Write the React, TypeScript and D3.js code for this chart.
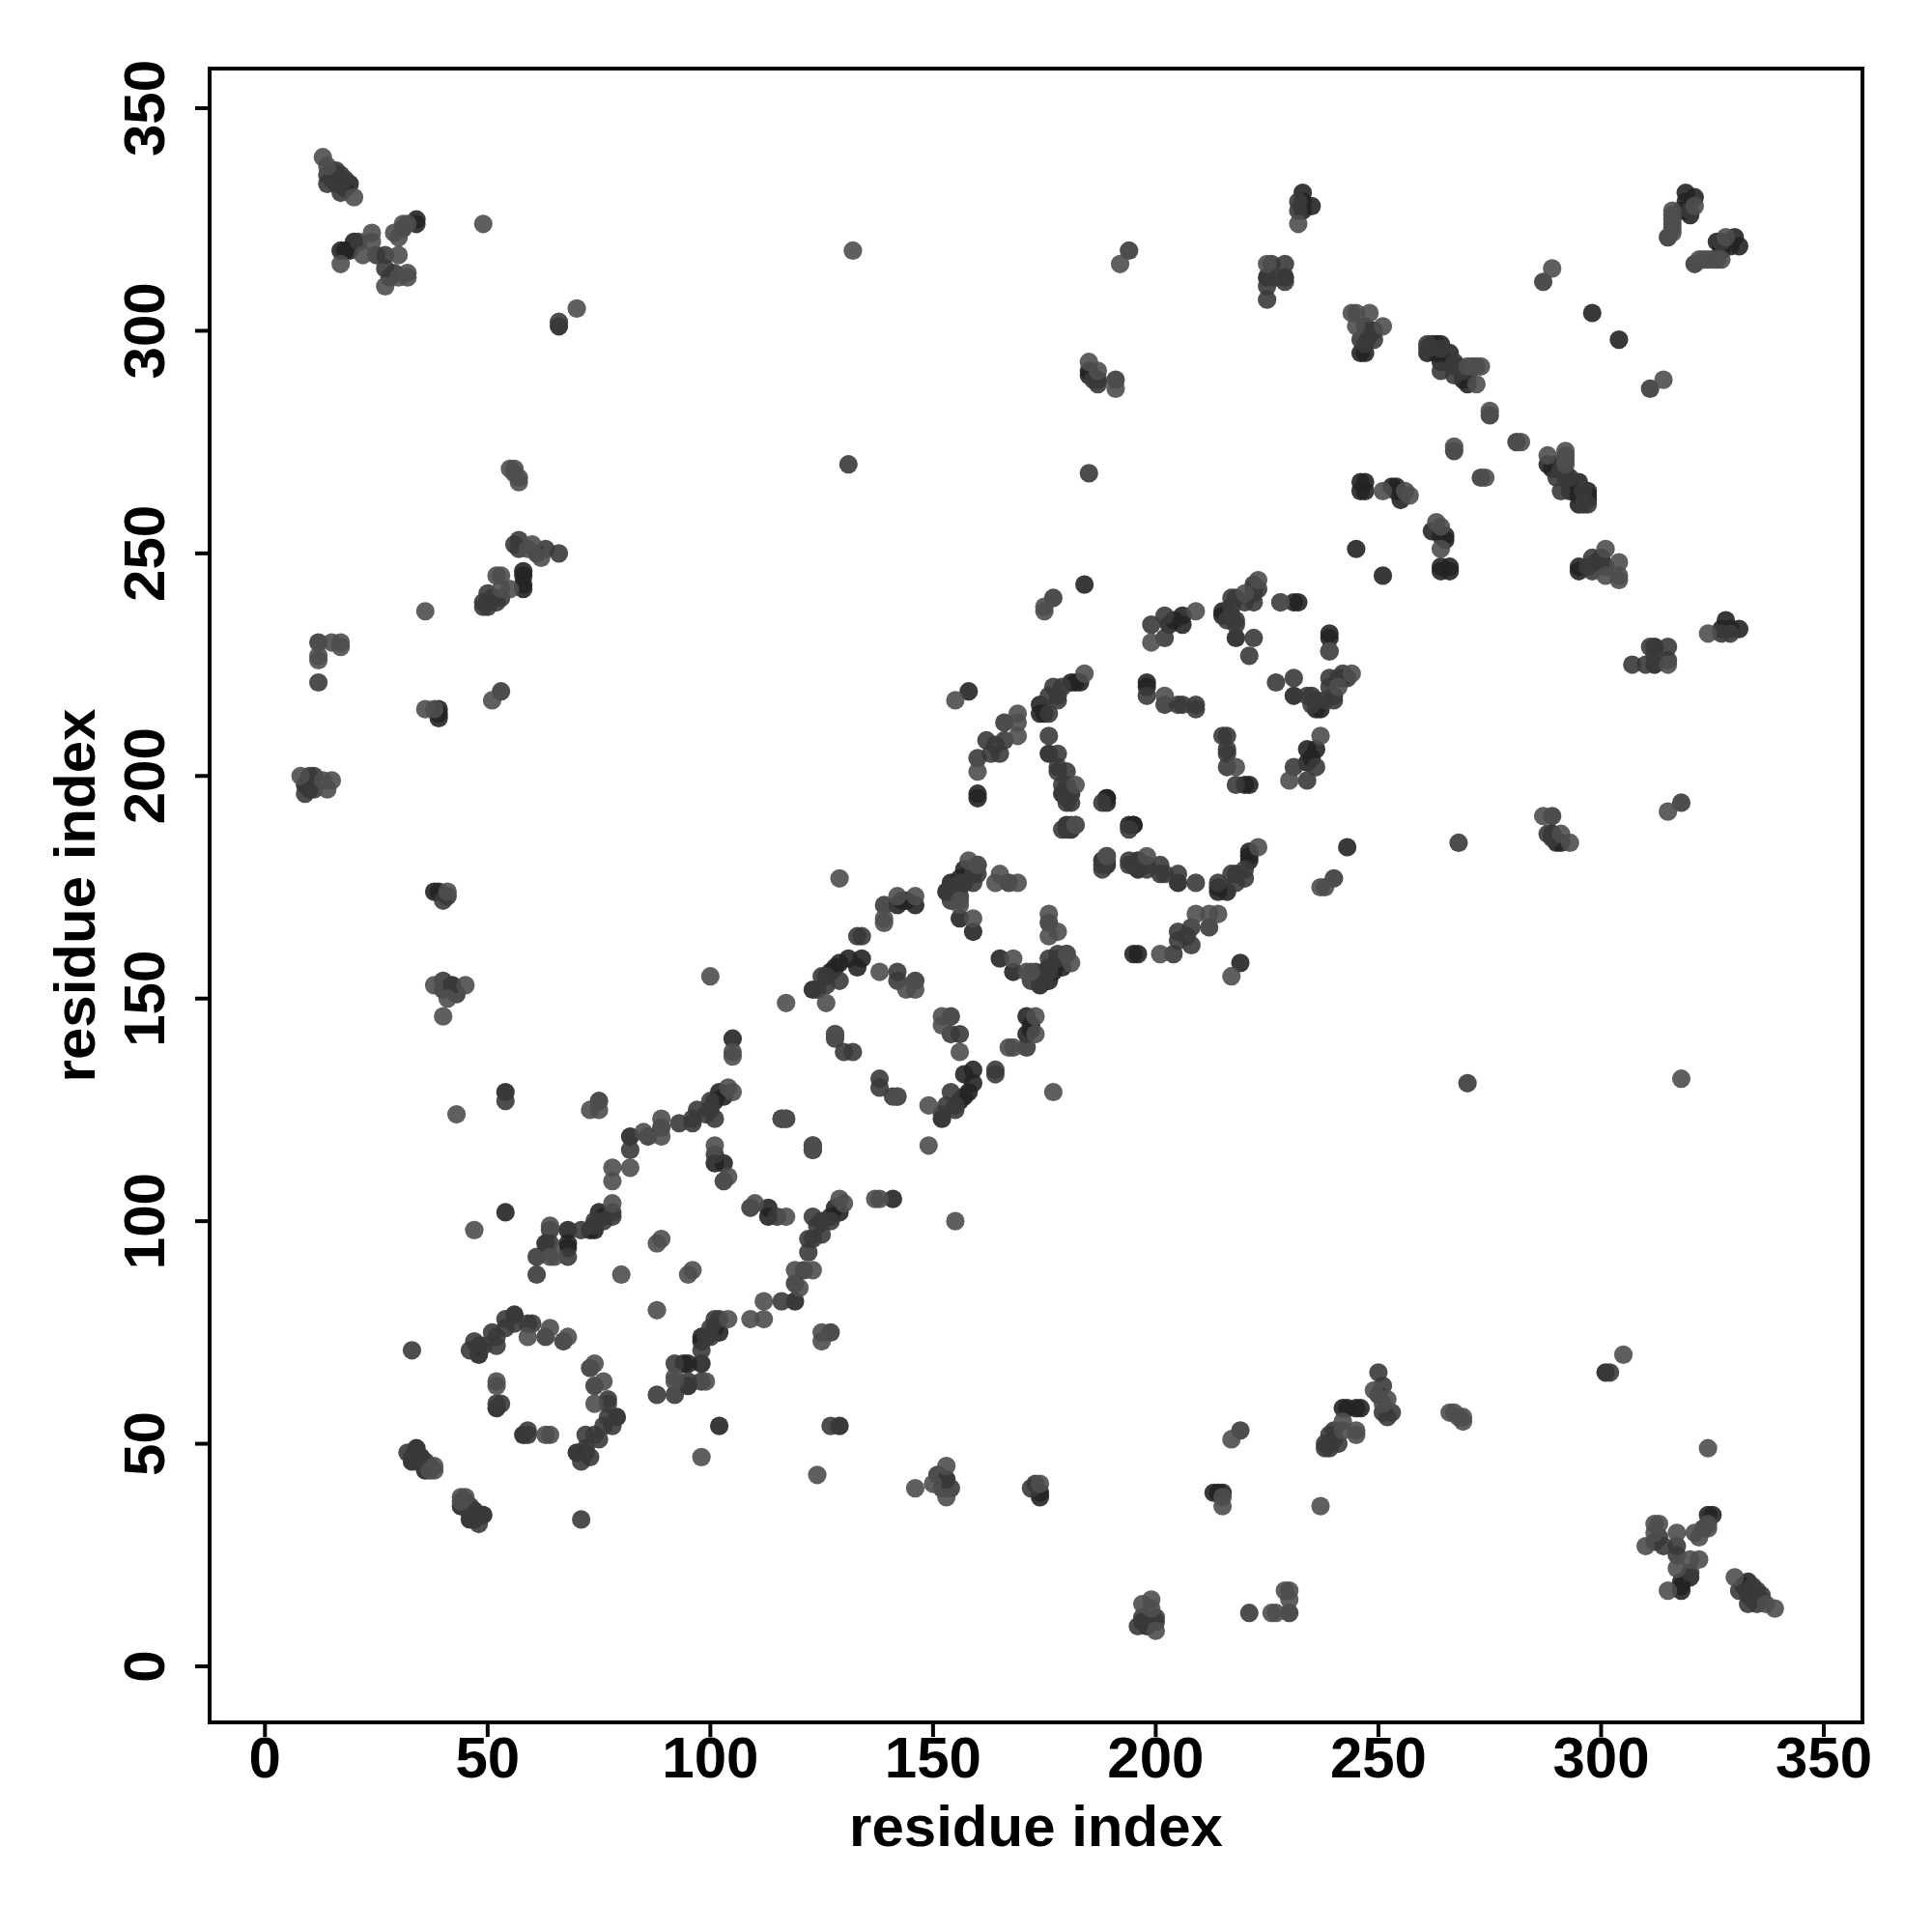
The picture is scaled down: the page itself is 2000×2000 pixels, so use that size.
import React from "react";
import * as d3 from "d3";

const tickValues = [0, 50, 100, 150, 200, 250, 300, 350];
const axisLabel = "residue index";

// contacts are symmetric: only i < j is listed, the mirror is drawn from it
const lightContacts = [
  [13,339],[14,337],[20,330],[17,315],[24,322],[24,320],[22,317],[30,317],[27,310],[32,313],[32,312],[30,312],[49,324],[70,305],[29,322],[30,321],[31,324],[32,324],
  [55,269],[56,269],[56,268],[57,267],[57,266],[60,252],[59,251],[62,249],[52,245],[53,245],[53,242],[55,242],[36,237],[15,230],[17,229],[12,227],[12,226],[17,230],[51,217],[36,215],[38,215],[8,200],[15,199],[14,197],[13,199],
  [38,153],[40,146],[45,153],[41,150],[43,124],[73,125],[75,125],[41,174],
  [85,120],[89,123],[89,119],[78,112],[78,109],[82,112],[104,130],[105,129],[105,138],[105,137],[117,149],[101,117],[104,110],[116,123],[117,123],
  [59,74],[64,76],[68,74],[52,64],[52,63],[38,44],[38,45],[37,44],
  [47,98],[64,99],[64,92],[65,92],[78,104],[88,95],[89,96],[80,88],[100,155],
  [129,177],[139,168],[139,167],[142,173],[146,173],[138,156],[146,152],[144,152],[126,149],[128,142],[142,128],
  [158,181],[160,180],[156,172],[156,171],[159,168],[165,178],[164,176],[169,176],[155,217],
  [184,223],[169,214],[169,212],[169,209],[160,201],[182,198],[182,189],[189,182],
  [209,237],[199,230],[220,241],[228,239],[223,244],[202,218],[239,228],
  [232,324],[225,315],[192,315],[132,318],[175,238],[175,237],[185,293],[187,291],[191,287],
  [244,304],[245,304],[248,304],[251,301],[245,301],[270,292],[271,292],[272,292],[272,288],[273,292],[275,282],[267,274],
  [251,264],[256,264],[257,263],[289,314],[321,328],[316,327],[316,325],[316,323],[316,322],[316,324],[316,326],
];

const midContacts = [
  [14,335],[15,336],[16,336],[15,334],[16,333],[17,335],[17,331],[14,333],[18,334],[21,320],[25,317],[27,317],[27,314],[29,313],[66,302],[28,312],[31,323],
  [57,253],[56,252],[57,251],[63,251],[61,250],[66,250],[53,240],[52,239],[50,241],[50,238],[49,239],[51,240],[49,238],[12,230],[12,221],[53,219],[10,200],[11,200],[9,196],[11,197],
  [40,154],[40,152],[43,151],[54,127],[75,127],[40,172],[41,173],
  [86,119],[89,121],[93,122],[82,116],[96,122],[97,125],[96,123],[99,124],[100,125],[100,127],[101,123],[101,115],[103,109],[123,117],[123,116],
  [46,71],[47,73],[49,72],[51,75],[52,72],[52,74],[54,78],[56,77],[54,76],[59,77],[60,77],[63,74],[67,73],[53,59],[52,59],
  [32,48],[33,47],[34,46],[36,45],[36,46],[37,45],[35,46],[34,48],[33,71],
  [64,98],[68,92],[64,95],[61,92],[61,88],[71,98],[74,100],[78,102],[78,101],[74,99],[76,100],
  [133,164],[134,164],[139,171],[142,156],[142,154],[146,154],[129,154],[126,155],[125,155],[124,152],[126,153],[128,141],[130,138],[132,138],
  [160,178],[156,175],[157,176],[159,176],[154,172],[167,176],[156,173],[154,175],[155,174],[156,176],[178,159],[180,160],
  [179,220],[177,220],[176,218],[178,217],[176,214],[178,218],[166,212],[166,208],[165,205],[163,205],[162,208],[160,204],[164,207],
  [176,209],[178,205],[178,202],[178,201],[180,201],[179,198],[181,194],[188,194],[179,188],[180,188],[189,181],[180,195],[180,194],[180,198],
  [202,236],[199,234],[202,231],[217,240],[216,235],[218,235],[222,242],[222,243],[222,239],[222,231],[221,227],[223,242],[222,241],[218,234],[217,236],[217,238],[218,240],[220,239],
  [198,218],[202,216],[205,216],[206,216],[209,216],[209,215],
  [232,329],[232,327],[226,315],[229,315],[229,311],[225,310],[225,307],[227,312],
  [194,318],[131,270],[185,268],[177,240],[187,288],[191,289],[186,289],
  [247,301],[247,297],[246,298],[248,300],[249,298],[261,297],[261,296],[264,296],[267,293],[267,292],[267,290],[269,291],[264,291],
  [275,281],[267,273],[287,311],[315,321],[320,327],
];

const darkContacts = [
  [18,332],[19,333],[17,318],[18,318],[19,318],[20,320],[34,325],[34,324],[66,301],
  [58,246],[58,245],[58,243],[58,242],[39,215],[39,214],[39,213],[9,198],[10,199],[10,197],
  [38,174],[39,174],[42,153],[54,129],
  [82,119],[101,127],[103,128],[102,129],[105,141],[101,113],[103,113],
  [48,72],[48,70],[56,79],[52,58],[33,46],[34,49],[35,47],[36,44],
  [54,102],[68,98],[68,95],[68,94],[63,95],[73,98],[74,98],[75,102],[76,101],
  [143,172],[142,171],[146,171],[144,172],[134,159],[133,157],[131,159],[129,158],[128,157],[123,152],[127,156],
  [157,179],[156,177],[153,174],[154,176],[156,168],[159,165],[158,219],[157,177],[158,178],
  [183,221],[182,221],[181,221],[174,216],[174,214],[175,214],[160,196],[160,195],
  [176,205],[181,196],[179,196],[189,195],[189,194],[181,188],[195,189],[189,180],
  [206,236],[206,234],[204,235],[203,234],[215,237],[215,236],[218,231],[231,239],[232,239],[198,221],[198,220],
  [233,331],[235,328],[233,329],[233,327],[229,312],[225,312],
  [184,243],[185,291],[187,289],[185,290],
  [248,299],[246,295],[247,295],[249,300],[262,297],[263,297],[264,297],[263,295],[261,295],[266,295],[265,293],[264,293],[268,292],[269,290],[269,289],[270,290],[270,288],
  [246,266],[247,266],[246,264],[247,264],[253,265],[254,265],[254,264],[255,262],[245,251],[298,304],
  [319,331],[319,329],[321,330],[320,326],[318,327],[319,327],
];

const fills = { dark: "rgb(36,36,36)", mid: "rgb(58,58,58)", light: "rgb(78,78,78)" };
const FONT = "'Liberation Sans', Arial, sans-serif";

export default function App() {
  const x = d3.scaleLinear().domain([0, 350]).range([274.3, 1888]);
  const y = d3.scaleLinear().domain([0, 350]).range([1725, 112]);
  const box = { l: 217, r: 1928, t: 71, b: 1783 };
  const layers: [number[][], string][] = [
    [darkContacts, fills.dark],
    [midContacts, fills.mid],
    [lightContacts, fills.light],
  ];
  return (
    <svg width={2000} height={2000} style={{ position: "absolute", left: 0, top: 0, background: "#fff" }}>
      {layers.map(([pts, fill], k) => (
        <g key={k} fill={fill} fillOpacity={0.9}>
          {pts.flatMap(([i, j]) => [
            <circle key={`${i}-${j}`} cx={x(i)} cy={y(j)} r={9.6} />,
            <circle key={`${j}-${i}`} cx={x(j)} cy={y(i)} r={9.6} />,
          ])}
        </g>
      ))}
      <rect x={box.l} y={box.t} width={box.r - box.l} height={box.b - box.t} fill="none" stroke="#000" strokeWidth={4} />
      {tickValues.map((t) => (
        <g key={t}>
          <line x1={x(t)} x2={x(t)} y1={box.b} y2={box.b + 15} stroke="#000" strokeWidth={4} />
          <text x={x(t)} y={1840} textAnchor="middle" fontFamily={FONT} fontWeight="bold" fontSize={60} fill="#000">{t}</text>
          <line x1={box.l} x2={box.l - 15} y1={y(t)} y2={y(t)} stroke="#000" strokeWidth={4} />
          <text transform={`translate(170,${y(t)}) rotate(-90)`} textAnchor="middle" fontFamily={FONT} fontWeight="bold" fontSize={60} fill="#000">{t}</text>
        </g>
      ))}
      <text x={(box.l + box.r) / 2} y={1911} textAnchor="middle" fontFamily={FONT} fontWeight="bold" fontSize={60} fill="#000">{axisLabel}</text>
      <text transform={`translate(98,${(box.t + box.b) / 2}) rotate(-90)`} textAnchor="middle" fontFamily={FONT} fontWeight="bold" fontSize={60} fill="#000">{axisLabel}</text>
    </svg>
  );
}
